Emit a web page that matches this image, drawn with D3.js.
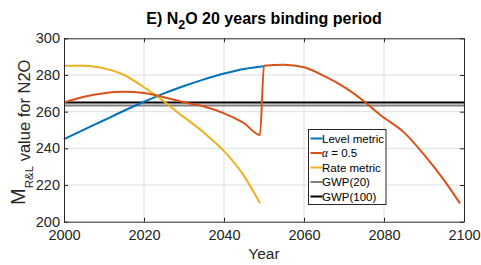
<!DOCTYPE html>
<html>
<head>
<meta charset="utf-8">
<script src="https://cdn.jsdelivr.net/npm/d3@7"></script>
<style>
  body { margin: 0; background: #fff; }
  svg { display: block; font-family: "Liberation Sans", Arial, Helvetica, sans-serif; }
</style>
</head>
<body>
<svg id="chart" width="481" height="265"></svg>
<script>
// values
var levelYears  = [2000, 2005, 2010, 2015, 2020, 2025, 2030, 2035, 2040, 2045, 2050];
var levelValues = [245, 250.2, 255.3, 260.5, 265.4, 270, 274, 277.6, 280.8, 283.3, 284.8];

var alphaYears  = [2000, 2005, 2010, 2015, 2020, 2025, 2030, 2035, 2040, 2045, 2049,
                   2050, 2055, 2060, 2065, 2070, 2075, 2079, 2085, 2090, 2095, 2099];
var alphaValues = [265, 268.1, 270, 270.8, 270.2, 267.9, 265.1, 262.8, 259.1, 253.7, 247.3,
                   285, 285.6, 284.2, 279.5, 273.5, 265.7, 258.3, 248.7, 236.6, 222.7, 210];

var rateYears  = [2000, 2005, 2010, 2015, 2020, 2025, 2029, 2030, 2035, 2040, 2045, 2049];
var rateValues = [285, 285.1, 283.6, 280, 273.3, 265.6, 258.6, 257, 248.5, 238.5, 225, 210];

var gwp20  = 263.4;
var gwp100 = 265;

var xTicks = [2000, 2020, 2040, 2060, 2080, 2100];
var yTicks = [200, 220, 240, 260, 280, 300];

var legendLabels = ['Level metric', '\u03b1 = 0.5', 'Rate metric', 'GWP(20)', 'GWP(100)'];
var legendColors = ['#0072BD', '#D95319', '#EDB120', '#808080', '#000000'];

var svg = d3.select('#chart');
var m = { left: 64, right: 464, top: 38.3, bottom: 221.7 };

var x = d3.scaleLinear().domain([2000, 2100]).range([m.left, m.right]);
var y = d3.scaleLinear().domain([200, 300]).range([m.bottom, m.top]);

// grid
var grid = svg.append('g').attr('class', 'grid');
grid.selectAll('line.gx')
  .data(xTicks.slice(1, -1))
  .enter().append('line')
  .attr('x1', function(d) { return x(d); })
  .attr('x2', function(d) { return x(d); })
  .attr('y1', m.top).attr('y2', m.bottom)
  .attr('stroke', '#dedede').attr('stroke-width', 1);
grid.selectAll('line.gy')
  .data(yTicks.slice(1, -1))
  .enter().append('line')
  .attr('y1', function(d) { return y(d); })
  .attr('y2', function(d) { return y(d); })
  .attr('x1', m.left).attr('x2', m.right)
  .attr('stroke', '#dedede').attr('stroke-width', 1);

// reference lines + series
function pts(years, vals) {
  return years.map(function(yr, i) { return [yr, vals[i]]; });
}
var line = d3.line()
  .x(function(d) { return x(d[0]); })
  .y(function(d) { return y(d[1]); })
  .curve(d3.curveMonotoneX);

var plot = svg.append('g').attr('class', 'lines');

plot.append('line')
  .attr('x1', x(2000)).attr('x2', x(2100))
  .attr('y1', y(gwp20)).attr('y2', y(gwp20))
  .attr('stroke', '#808080').attr('stroke-width', 2);
plot.append('line')
  .attr('x1', x(2000)).attr('x2', x(2100))
  .attr('y1', y(gwp100)).attr('y2', y(gwp100))
  .attr('stroke', '#000').attr('stroke-width', 2);

plot.append('path')
  .datum(pts(levelYears, levelValues))
  .attr('d', line).attr('fill', 'none')
  .attr('stroke', legendColors[0]).attr('stroke-width', 2);
plot.append('path')
  .datum(pts(rateYears, rateValues))
  .attr('d', line).attr('fill', 'none')
  .attr('stroke', legendColors[2]).attr('stroke-width', 2);
plot.append('path')
  .datum(pts(alphaYears, alphaValues))
  .attr('d', line).attr('fill', 'none')
  .attr('stroke', legendColors[1]).attr('stroke-width', 2);

// axes (box with inner ticks)
var axisColor = '#262626';
var xAxis = svg.append('g')
  .attr('transform', 'translate(0,' + m.bottom + ')')
  .call(d3.axisBottom(x).tickValues(xTicks).tickFormat(d3.format('d')).tickSizeInner(-4).tickSizeOuter(0).tickPadding(8));
var xAxisTop = svg.append('g')
  .attr('transform', 'translate(0,' + m.top + ')')
  .call(d3.axisTop(x).tickValues(xTicks).tickFormat('').tickSizeInner(-4).tickSizeOuter(0));
var yAxis = svg.append('g')
  .attr('transform', 'translate(' + m.left + ',0)')
  .call(d3.axisLeft(y).tickValues(yTicks).tickSizeInner(-4).tickSizeOuter(0).tickPadding(4));
var yAxisRight = svg.append('g')
  .attr('transform', 'translate(' + m.right + ',0)')
  .call(d3.axisRight(y).tickValues(yTicks).tickFormat('').tickSizeInner(-4).tickSizeOuter(0));

[xAxis, xAxisTop, yAxis, yAxisRight].forEach(function(a) {
  a.selectAll('path.domain').attr('stroke', axisColor);
  a.selectAll('line').attr('stroke', axisColor);
  a.selectAll('text').attr('fill', axisColor)
    .style('font-size', '14.5px').style('font-family', null);
});

// title
var title = svg.append('text')
  .attr('x', (m.left + m.right) / 2).attr('y', 24)
  .attr('text-anchor', 'middle')
  .style('font-size', '16px').style('font-weight', 'bold')
  .attr('fill', '#000');
title.append('tspan').text('E) N');
title.append('tspan').attr('dy', 5).style('font-size', '12.5px').text('2');
title.append('tspan').attr('dy', -5).text('O 20 years binding period');

// x label
svg.append('text')
  .attr('x', (m.left + m.right) / 2).attr('y', 259)
  .attr('text-anchor', 'middle')
  .style('font-size', '15.5px').attr('fill', axisColor)
  .text('Year');

// y label
var ylab = svg.append('text')
  .attr('transform', 'translate(30,205) rotate(-90)')
  .attr('text-anchor', 'start')
  .style('font-size', '16.5px').attr('fill', axisColor);
ylab.append('tspan').attr('dy', -5).style('font-size', '20px').text('M');
ylab.append('tspan').attr('dy', 8).style('font-size', '11.5px').text('R&L');
ylab.append('tspan').attr('dy', -3).text(' value for N2O');

// legend
var lg = svg.append('g').attr('transform', 'translate(308.5,129.5)');
lg.append('rect')
  .attr('width', 77.5).attr('height', 75)
  .attr('fill', '#fff').attr('stroke', '#262626').attr('stroke-width', 1);
var items = lg.selectAll('g.item')
  .data(legendLabels)
  .enter().append('g')
  .attr('transform', function(d, i) { return 'translate(0,' + (9 + i * 14.5) + ')'; });
items.append('line')
  .attr('x1', 2).attr('x2', 14)
  .attr('stroke', function(d, i) { return legendColors[i]; })
  .attr('stroke-width', 2);
items.append('text')
  .attr('x', 13.5).attr('dy', '0.35em')
  .style('font-size', '11.5px').attr('fill', '#000')
  .each(function(d) {
    var t = d3.select(this);
    if (d.charAt(0) === '\u03b1') {
      t.append('tspan').style('font-family', '"Liberation Serif", "DejaVu Serif", serif')
        .style('font-style', 'italic').text('\u03b1');
      t.append('tspan').text(d.slice(1));
    } else {
      t.text(d);
    }
  });
</script>
</body>
</html>
